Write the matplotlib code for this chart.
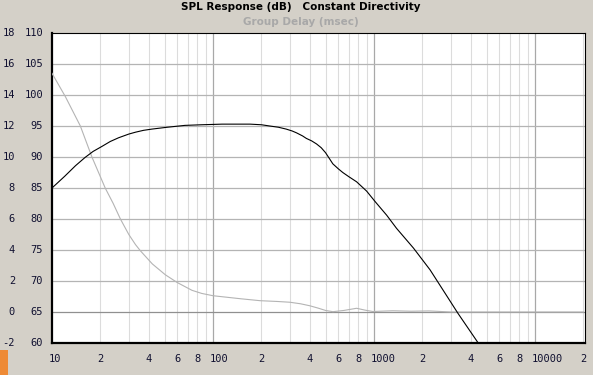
# SPL response / group delay chart, constant directivity
import numpy as np
import matplotlib
matplotlib.use('Agg')
import matplotlib.pyplot as plt
from matplotlib.transforms import offset_copy
from matplotlib.patches import Rectangle

# SPL curve (dB)
spl_freq = [10, 12, 14, 16, 18, 20.4, 23, 25.9, 30, 33, 37, 41.7, 52, 67, 85,
            114, 170, 200, 225, 255, 285, 310, 330, 360, 380, 410, 440, 470,
            500, 530, 555, 600, 640, 700, 780, 900, 1017, 1200, 1380, 1760,
            2230, 2800, 3320, 4440, 6000]
spl_db = [85.0, 86.9, 88.6, 89.9, 90.9, 91.7, 92.5, 93.1, 93.7, 94.0, 94.3,
          94.5, 94.8, 95.1, 95.2, 95.3, 95.3, 95.2, 95.0, 94.8, 94.5, 94.2,
          93.9, 93.4, 93.0, 92.6, 92.1, 91.5, 90.7, 89.7, 88.9, 88.1, 87.5,
          86.8, 86.0, 84.5, 82.8, 80.6, 78.5, 75.3, 71.8, 67.8, 64.8, 60.0,
          55.0]

# group delay (msec)
gd_freq = [10, 12.1, 15, 17.7, 21.4, 24, 26.6, 30, 33, 35.4, 42, 50.6, 60, 74,
           85, 100, 150, 196, 250, 300, 350, 400, 450, 500, 556, 650, 780, 880,
           985, 1150, 1310, 1700, 2200, 3000, 20000]
gd_ms = [15.4, 13.9, 12.0, 10.0, 8.0, 7.0, 6.0, 5.0, 4.35, 3.95, 3.1, 2.4,
         1.9, 1.4, 1.2, 1.05, 0.85, 0.73, 0.68, 0.63, 0.53, 0.4, 0.25, 0.1,
         0.02, 0.1, 0.24, 0.12, 0.03, 0.06, 0.08, 0.05, 0.07, 0.0, 0.0]

spl_ticks = [60, 65, 70, 75, 80, 85, 90, 95, 100, 105, 110]
gd_ticks = [-2, 0, 2, 4, 6, 8, 10, 12, 14, 16, 18]
x_ticks = [10, 20, 40, 60, 80, 100, 200, 400, 600, 800, 1000, 2000, 4000,
           6000, 8000, 10000, 20000]
x_labels = ['10', '2', '4', '6', '8', '100', '2', '4', '6', '8', '1000', '2',
            '4', '6', '8', '10000', '2']

bg = '#D4D0C8'
W, H = 593, 375
fig = plt.figure(figsize=(W / 100, H / 100), dpi=100, facecolor=bg)
ax = fig.add_axes([52 / W, 1 - 343 / H, 533 / W, 310 / H])
ax.set_facecolor('white')
ax.set_xscale('log')
ax.set_xlim(10, 20450)
ax.set_ylim(60, 110)

# grid
for dec in [10, 100, 1000, 10000]:
    for m in range(2, 10):
        if dec * m < 20450:
            ax.axvline(dec * m, color='#DCDCDC', lw=0.8, zorder=1)
for f in [100, 1000, 10000]:
    ax.axvline(f, color='#A8A8A8', lw=0.9, zorder=1)
for v in spl_ticks[2:-1]:
    ax.axhline(v, color='#B4B4B4', lw=0.9, zorder=1)
ax.axhline(65, color='#909090', lw=0.9, zorder=1)

ax.set_xticks([])
ax.set_yticks([])
ax.minorticks_off()
for s in ['top', 'right']:
    ax.spines[s].set_linewidth(0.8)
for s in ['left', 'bottom']:
    ax.spines[s].set_linewidth(1.6)

# group delay on its own scale, SPL drawn on top of it
ax2 = ax.twinx()
ax2.set_ylim(-2, 18)
ax2.set_yticks([])
for s in ax2.spines.values():
    s.set_visible(False)
ax2.plot(gd_freq, gd_ms, color='#B4B4B4', lw=0.8, zorder=2)
ax2.plot(spl_freq, spl_db, color='black', lw=0.8, zorder=3,
         transform=ax.transData)

# tick labels drawn as text
tfont = dict(family='DejaVu Sans Mono', size=7.5, color='#101030')
ytr = ax.get_yaxis_transform()
for v, g in zip(spl_ticks, gd_ticks):
    ax.text(0, v, str(v), transform=offset_copy(ytr, fig, x=-9, units='dots'),
            ha='right', va='center', clip_on=False, **tfont)
    ax.text(0, v, str(g), transform=offset_copy(ytr, fig, x=-37, units='dots'),
            ha='right', va='center', clip_on=False, **tfont)
xtr = ax.get_xaxis_transform()
for f, lab in zip(x_ticks, x_labels):
    ax.text(f, 0, lab, transform=offset_copy(xtr, fig, x=-3, y=-16, units='dots'),
            ha='left', va='center', clip_on=False, **tfont)

# titles
fig.text(301 / W, 1 - 7.5 / H, 'SPL Response (dB)   Constant Directivity',
         ha='center', va='center', fontsize=7.5, fontweight='bold',
         family='DejaVu Sans', color='black')
fig.text(301 / W, 1 - 22 / H, 'Group Delay (msec)', ha='center', va='center',
         fontsize=7.5, fontweight='bold', family='DejaVu Sans', color='#A8A8A8')

# orange marker bottom-left
fig.patches.append(Rectangle((0, 0), 8 / W, 25 / H, transform=fig.transFigure,
                             facecolor='#EE8A35', edgecolor='none'))

fig.savefig('out.png', dpi=100, facecolor=bg)
